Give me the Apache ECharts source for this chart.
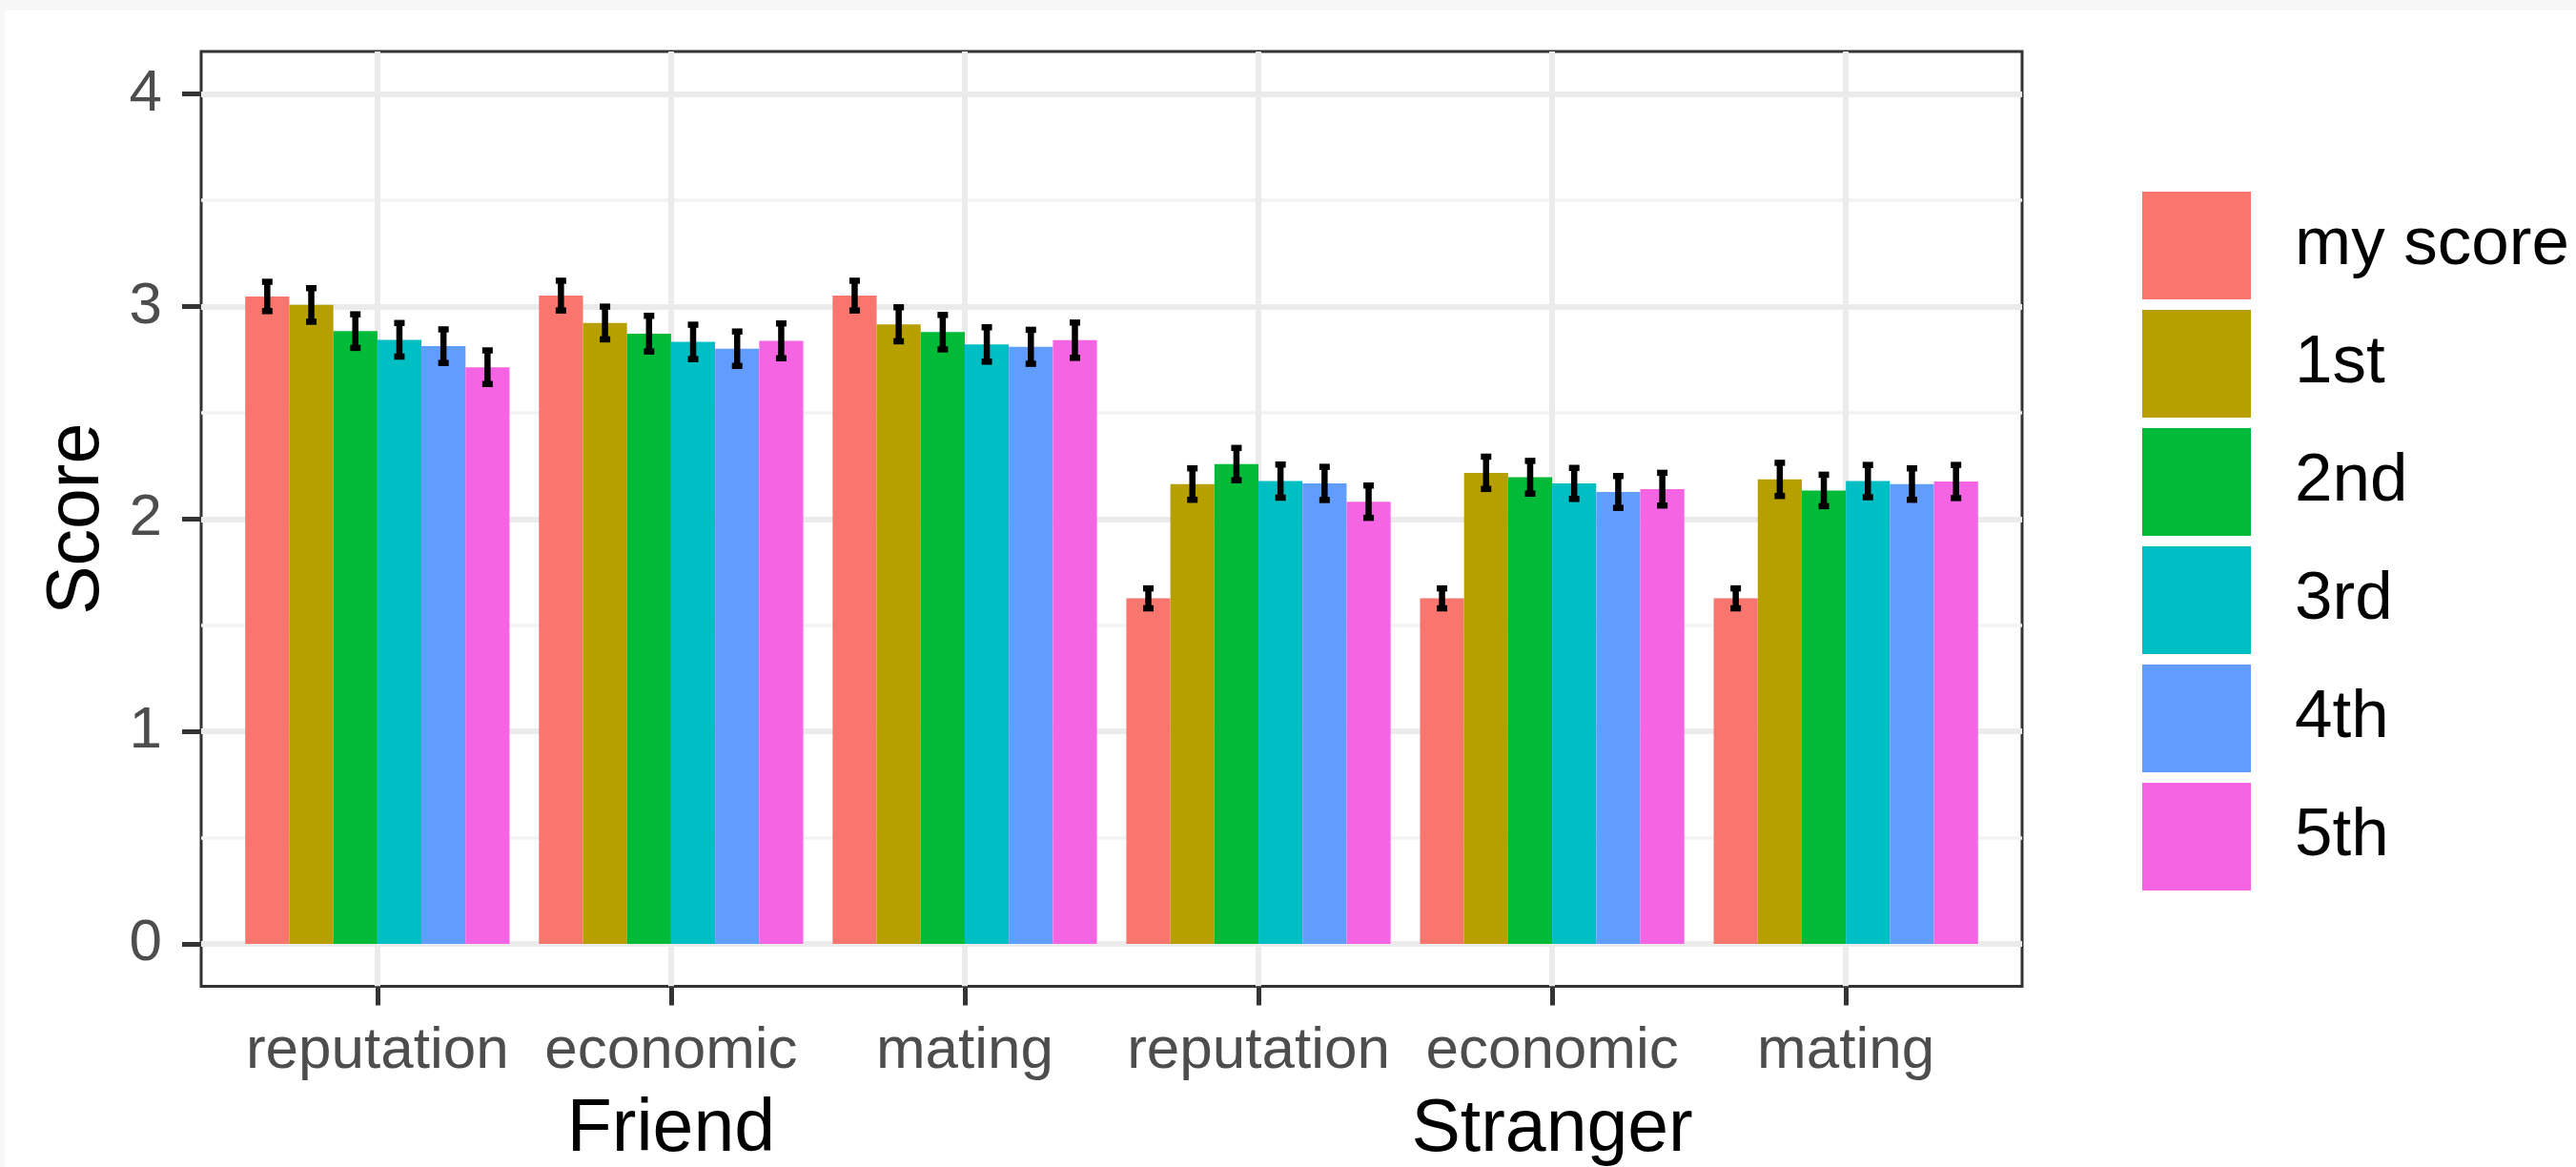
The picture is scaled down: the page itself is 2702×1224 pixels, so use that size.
<!DOCTYPE html>
<html>
<head>
<meta charset="utf-8">
<style>
html,body{margin:0;padding:0;background:#fff;}
#chart{width:2702px;height:1224px;}
</style>
<script src="https://cdn.jsdelivr.net/npm/echarts@6/dist/echarts.min.js"></script>
</head>
<body>
<div id="chart"></div>
<script>
// ---- data ----
const subLabels = ['reputation', 'economic', 'mating', 'reputation', 'economic', 'mating'];
const groupLabels = ['Friend', 'Stranger'];
const groupLabelAt = [2, 5];            // category position where group label is written
const seriesNames = ['my score', '1st', '2nd', '3rd', '4th', '5th'];
const colors = ['#F8766D', '#B79F00', '#00BA38', '#00BFC4', '#619CFF', '#F564E3'];

const myScore = [3.047, 3.051, 3.051, 1.626, 1.626, 1.626];
const first   = [3.007, 2.922, 2.916, 2.164, 2.217, 2.186];
const second  = [2.884, 2.872, 2.879, 2.258, 2.196, 2.134];
const third   = [2.843, 2.833, 2.821, 2.178, 2.167, 2.178];
const fourth  = [2.813, 2.801, 2.810, 2.167, 2.127, 2.164];
const fifth   = [2.714, 2.838, 2.841, 2.081, 2.140, 2.176];

const seMy     = [0.069, 0.070, 0.070, 0.047, 0.047, 0.047];
const seFirst  = [0.079, 0.077, 0.080, 0.074, 0.076, 0.078];
const seSecond = [0.079, 0.084, 0.081, 0.076, 0.077, 0.074];
const seThird  = [0.079, 0.081, 0.081, 0.078, 0.073, 0.076];
const seFourth = [0.079, 0.081, 0.080, 0.078, 0.075, 0.074];
const seFifth  = [0.079, 0.082, 0.083, 0.076, 0.077, 0.078];

const yTicks = [0, 1, 2, 3, 4];
const yMinor = [0.5, 1.5, 2.5, 3.5];
const xTicks = [1, 2, 3, 4, 5, 6];

const means = [myScore, first, second, third, fourth, fifth];
const ses = [seMy, seFirst, seSecond, seThird, seFourth, seFifth];

// ---- chart ----
const FONT = '"Liberation Sans", Arial, sans-serif';
const DODGE = 0.15;
const chart = echarts.init(document.getElementById('chart'));

function barRender(j) {
  return function (params, api) {
    const xc = api.value(0) + (j - 2.5) * DODGE;
    const v = api.value(1);
    const p1 = api.coord([xc, v]);
    const p0 = api.coord([xc, 0]);
    const w = api.size([DODGE, 0])[0];
    return {
      type: 'rect',
      shape: { x: p1[0] - w / 2, y: p1[1], width: w, height: p0[1] - p1[1] },
      style: { fill: colors[j] }
    };
  };
}

const series = [];
for (let j = 0; j < 6; j++) {
  series.push({
    type: 'custom',
    name: seriesNames[j],
    xAxisIndex: 0, yAxisIndex: 0,
    itemStyle: { color: colors[j] },
    renderItem: barRender(j),
    data: means[j].map((v, i) => [xTicks[i], v]),
    z: 2
  });
}

const errData = [];
for (let j = 0; j < 6; j++) {
  for (let i = 0; i < 6; i++) {
    errData.push([xTicks[i], j, means[j][i], ses[j][i]]);
  }
}
series.push({
  type: 'custom',
  name: 'err',
  xAxisIndex: 0, yAxisIndex: 0,
  z: 5,
  renderItem: function (params, api) {
    const j = api.value(1);
    const xc = api.value(0) + (j - 2.5) * DODGE;
    const v = api.value(2), se = api.value(3);
    const t = api.coord([xc, v + se]);
    const b = api.coord([xc, v - se]);
    const hw = 5.5;
    const st = { stroke: '#000', lineWidth: 6.5 };
    return {
      type: 'group',
      children: [
        { type: 'line', shape: { x1: t[0], y1: t[1], x2: b[0], y2: b[1] }, style: st },
        { type: 'line', shape: { x1: t[0] - hw, y1: t[1], x2: t[0] + hw, y2: t[1] }, style: st },
        { type: 'line', shape: { x1: b[0] - hw, y1: b[1], x2: b[0] + hw, y2: b[1] }, style: st }
      ]
    };
  },
  data: errData
});

const option = {
  animation: false,
  backgroundColor: '#fff',
  graphic: [
    { type: 'rect', shape: { x: 0, y: 0, width: 2702, height: 11 }, style: { fill: '#F7F7F7' }, z: -10 },
    { type: 'rect', shape: { x: 0, y: 0, width: 5, height: 1224 }, style: { fill: '#F7F7F7' }, z: -10 }
  ],
  grid: {
    left: 211, top: 54, width: 1910, height: 988,
    show: true, borderColor: '#333333', borderWidth: 3, backgroundColor: '#fff'
  },
  legend: {
    orient: 'vertical',
    left: 2247, top: 201,
    padding: 0,
    itemWidth: 114, itemHeight: 113, itemGap: 11,
    icon: 'rect',
    data: seriesNames,
    selectedMode: false,
    textStyle: { fontSize: 71, color: '#000', fontFamily: FONT, padding: [0, 0, 0, 41] }
  },
  xAxis: {
    type: 'value', min: 0.4, max: 6.6,
    axisLine: { show: false, onZero: false },
    axisTick: { show: true, customValues: xTicks, length: 20, lineStyle: { color: '#333333', width: 5 } },
    splitLine: { show: true, lineStyle: { color: '#EBEBEB', width: 6 } },
    axisLabel: {
      customValues: xTicks,
      margin: 32,
      fontSize: 62,
      fontFamily: FONT,
      color: '#4D4D4D',
      formatter: function (val) {
        const i = Math.round(val) - 1;
        let s = '{a|' + subLabels[i] + '}';
        const g = groupLabelAt.indexOf(Math.round(val));
        if (g >= 0) s += '\n{b|' + groupLabels[g] + '}';
        return s;
      },
      rich: {
        a: { fontSize: 62, lineHeight: 72, color: '#4D4D4D', fontFamily: FONT },
        b: { fontSize: 77, lineHeight: 94, color: '#000', fontFamily: FONT }
      }
    }
  },
  yAxis: [
    {
      type: 'value', min: -0.2, max: 4.2,
      name: 'Score', nameLocation: 'middle', nameGap: 91,
      nameTextStyle: { fontSize: 77, color: '#000', fontFamily: FONT },
      axisLine: { show: false, onZero: false },
      axisTick: { show: true, customValues: yTicks, length: 20, lineStyle: { color: '#333333', width: 5 } },
      splitLine: { show: true, lineStyle: { color: '#EBEBEB', width: 6 } },
      axisLabel: { customValues: yTicks, margin: 41, fontSize: 62, color: '#4D4D4D', fontFamily: FONT }
    },
    {
      type: 'value', min: -0.2, max: 4.2, position: 'left',
      axisLine: { show: false, onZero: false },
      axisTick: { show: false, customValues: yMinor },
      axisLabel: { show: false, customValues: yMinor },
      splitLine: { show: true, lineStyle: { color: '#F3F3F3', width: 3.5 } }
    }
  ],
  series: series
};
chart.setOption(option);
</script>
</body>
</html>
